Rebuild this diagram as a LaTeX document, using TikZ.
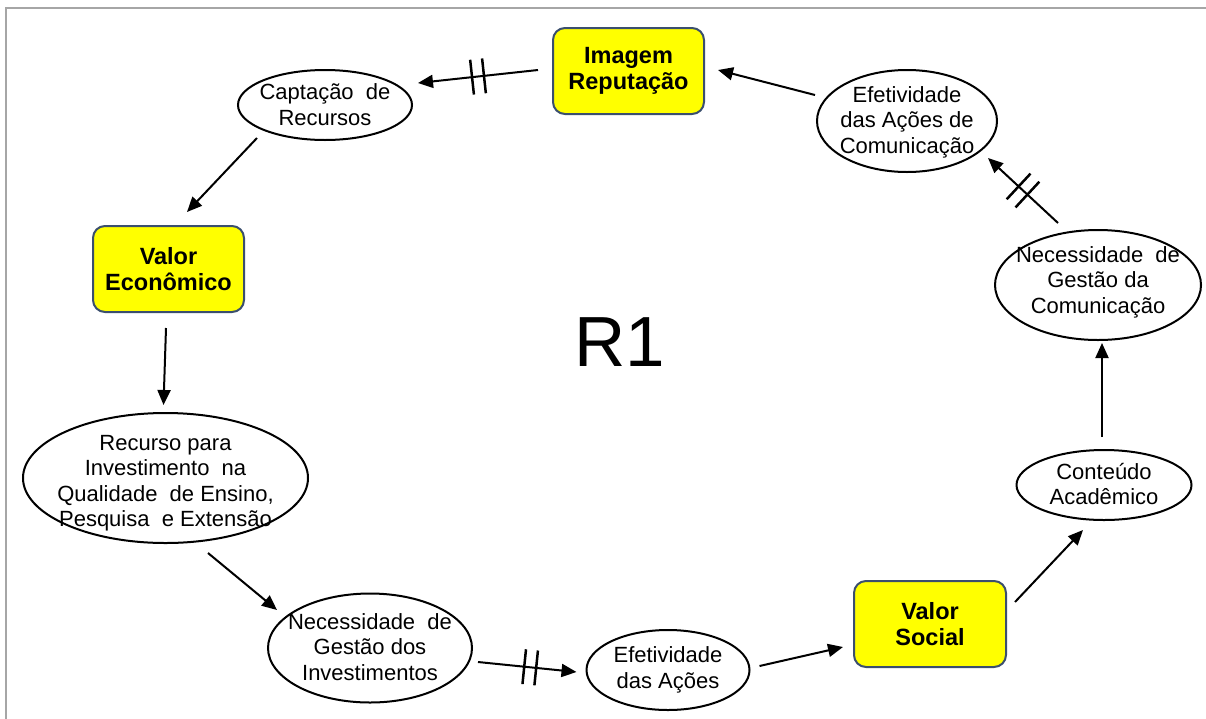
\documentclass[tikz,border=0pt]{standalone}
\usepackage{fontspec}
\setmainfont{Liberation Sans}
\usetikzlibrary{arrows.meta,shapes.geometric,decorations.markings}
\definecolor{boxedge}{HTML}{3B4F6E}
\definecolor{framegray}{HTML}{A6A6A6}
\definecolor{boxyellow}{HTML}{FFFF00}
\begin{document}
\begin{tikzpicture}[x=1pt,y=-1pt,
  ell/.style={draw=black, line width=2pt, ellipse, inner sep=0pt, outer sep=0pt},
  etxt/.style={align=center, inner sep=0pt, font=\fontsize{22}{25.5}\selectfont, text=black},
  vbox/.style={draw=boxedge, line width=2pt, fill=boxyellow, rounded corners=12pt,
    inner sep=0pt, outer sep=0pt, minimum width=151pt, minimum height=86pt,
    align=center, font=\fontsize{23.5}{25.5}\selectfont\bfseries},
  arr/.style={line width=2pt, -{Triangle[length=15pt,width=13pt]}},
  ticks/.style={postaction={decorate}, decoration={markings,
    mark=at position #1 with {\draw[arrows=-, line width=2.5pt] (-6,-17.5) -- (-6,17.5) (6,-17.5) -- (6,17.5);}}},
  framestyle/.style={draw=framegray, line width=2pt}
]
\useasboundingbox (0,0) rectangle (1206,718);
\draw[framestyle] (1207,8) -- (6,8) -- (6,719);

% boxes
\node[vbox] (img) at (628.5,71) {Imagem\\Reputação};
\node[vbox] (vecon) at (168.5,269) {Valor\\Econômico};
\node[vbox, minimum width=152pt] (vsoc) at (930,624) {Valor\\Social};

% ellipses
\node[ell, minimum width=174pt, minimum height=70pt] (capt) at (325,105) {};
\node[etxt] at ([yshift=0.5]capt.center) {Captação \ de\\Recursos};

\node[ell, minimum width=180pt, minimum height=102pt] (effc) at (907,121) {};
\node[etxt] at ([yshift=-1]effc.center) {Efetividade\\das Ações de\\Comunicação};

\node[ell, minimum width=206pt, minimum height=110pt] (necc) at (1098,285) {};
\node[etxt] at ([yshift=3]necc.center) {Necessidade \ de\\Gestão da\\Comunicação};

\node[ell, minimum width=175pt, minimum height=70pt] (cont) at (1104,485) {};
\node[etxt] at ([yshift=1]cont.center) {Conteúdo\\Acadêmico};

\node[ell, minimum width=163pt, minimum height=80pt] (effa) at (668,670) {};
\node[etxt] at (effa.center) {Efetividade\\das Ações};

\node[ell, minimum width=204pt, minimum height=109pt] (neci) at (370,648) {};
\node[etxt] at ([yshift=1]neci.center) {Necessidade \ de\\Gestão dos\\Investimentos};

\node[ell, minimum width=285pt, minimum height=130pt] (rec) at (165.5,478) {};
\node[etxt] at ([yshift=-5]rec.center) {Recurso para\\Investimento \ na\\Qualidade \ de Ensino,\\Pesquisa \ e Extensão};

\node[font=\fontsize{71}{80}\selectfont, inner sep=0pt] (r1) at (620,342) {R1};

% connectors
\draw[arr, ticks=0.5] ([shift={(-15,-1)}]img.west) -- ([shift={(6,-22)}]capt.east);
\draw[arr] ([shift={(-2,-26)}]effc.west) -- ([shift={(14,-1)}]img.east);
\draw[arr, ticks=0.5] ([shift={(-40,-7)}]necc.north) -- ([shift={(81,-14)}]effc.south);
\draw[arr] ([shift={(-2,-13)}]cont.north) -- ([shift={(4,3)}]necc.south);
\draw[arr] ([shift={(9,-22)}]vsoc.east) -- ([shift={(-21,10)}]cont.south);
\draw[arr] ([shift={(10,-4)}]effa.east) -- ([shift={(-11,23)}]vsoc.west);
\draw[arr, ticks=0.53] ([shift={(6,14)}]neci.east) -- ([shift={(-10,2)}]effa.west);
\draw[arr] ([shift={(42.5,10)}]rec.south) -- ([shift={(9,-38)}]neci.west);
\draw[arr] ([shift={(-2.5,16)}]vecon.south) -- ([shift={(-2,-8)}]rec.north);
\draw[arr] ([shift={(-68,-2)}]capt.south) -- ([shift={(18.5,-14)}]vecon.north);
\end{tikzpicture}
\end{document}
